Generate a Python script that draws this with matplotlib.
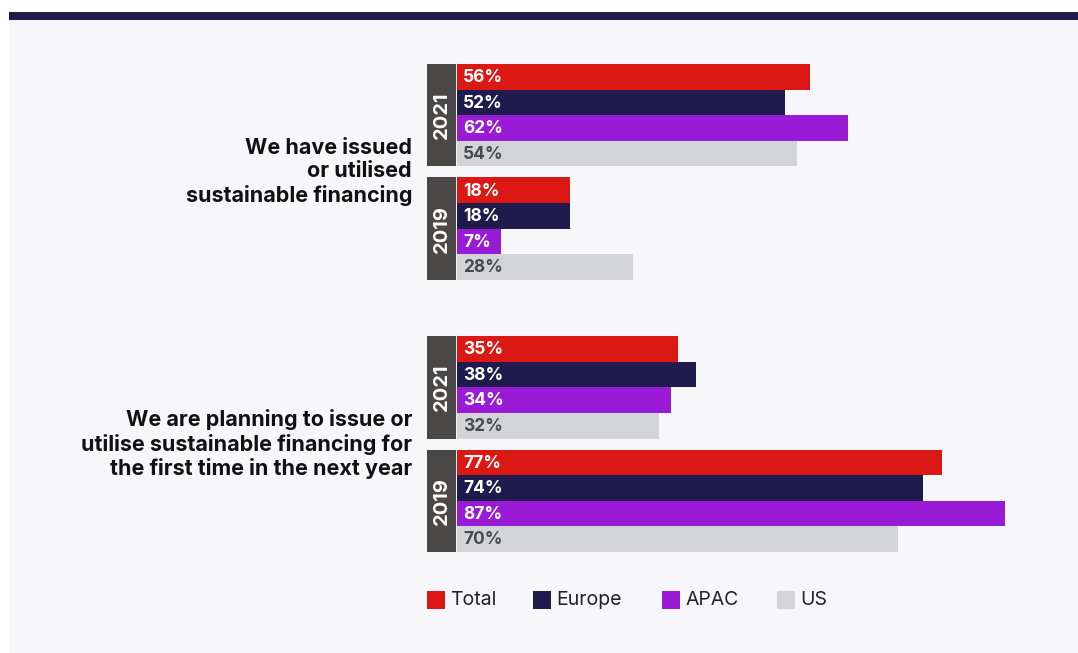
import matplotlib
matplotlib.use("Agg")
import matplotlib.pyplot as plt
from matplotlib.patches import Rectangle

plt.rcParams['font.family'] = ['Inter', 'DejaVu Sans']

# ---- data ----
questions = ["We have issued\nor utilised\nsustainable financing",
             "We are planning to issue or\nutilise sustainable financing for\nthe first time in the next year"]
years = ["2021", "2019"]
series = ["Total", "Europe", "APAC", "US"]
colors = ["#db1813", "#1f1b4d", "#9a1bd6", "#d3d4d6"]
label_colors = ["white", "white", "white", "#4a4a4a"]
# values[question][year][series]
q1_2021 = [56, 52, 62, 54]
q1_2019 = [18, 18, 7, 28]
q2_2021 = [35, 38, 34, 32]
q2_2019 = [77, 74, 87, 70]
values = [[q1_2021, q1_2019], [q2_2021, q2_2019]]

W, H = 1078, 653
fig = plt.figure(figsize=(W / 100, H / 100), dpi=100)
fig.patch.set_facecolor("white")

def fx(px):
    return px / W

def fy(py):
    return 1 - py / H

# panel + top band
fig.add_artist(Rectangle((fx(9), 0), 1 - fx(9), fy(20), transform=fig.transFigure,
                         facecolor="#f7f7f9", edgecolor="none", zorder=0))
fig.add_artist(Rectangle((fx(9), fy(20)), 1 - fx(9), fy(12) - fy(20), transform=fig.transFigure,
                         facecolor="#1f1b4d", edgecolor="none", zorder=0))

# bars axes
x0_px, y_top, y_bot = 457, 64, 552
px_per_unit = 6.3
ax = fig.add_axes([fx(x0_px), fy(y_bot), 1 - fx(x0_px), fy(y_top) - fy(y_bot)])
ax.set_facecolor("none")
ax.set_xlim(0, (W - x0_px) / px_per_unit)

block_gap = 0.43
group_gap = 2.19
total_units = 4 * 4 + 2 * block_gap + group_gap
ax.set_ylim(total_units, 0)
for s in ax.spines.values():
    s.set_visible(False)
ax.set_xticks([])
ax.set_yticks([])

box_left = -30.5 / px_per_unit
pos = 0.0
group_centers = []
for qi, q in enumerate(questions):
    gstart = pos
    for yi, yr in enumerate(years):
        vals = values[qi][yi]
        bstart = pos
        for si, v in enumerate(vals):
            ax.barh(pos + si + 0.5, v, height=1.0, color=colors[si], left=0)
            ax.text(1.0, pos + si + 0.53, f"{v}%", color=label_colors[si],
                    fontsize=12.5, fontweight="bold", va="center", ha="left")
        ax.add_patch(Rectangle((box_left, bstart), -box_left - 0.08, 4,
                               facecolor="#4a4846", edgecolor="none", clip_on=False))
        ax.text(box_left / 2 - 0.04, bstart + 2, yr, rotation=90, color="white",
                fontsize=14.5, fontweight="bold", ha="center", va="center",
                clip_on=False)
        pos += 4
        if yi == 0:
            pos += block_gap
    group_centers.append((gstart + pos) / 2)
    pos += group_gap

for qi, q in enumerate(questions):
    ax.text(-45 / px_per_unit, group_centers[qi], q, ha="right", va="center",
            fontsize=15.5, fontweight="bold", color="#111111", linespacing=1.2,
            clip_on=False)

# legend
leg_y = 600
leg_items = [(427, "Total"), (533, "Europe"), (662, "APAC"), (777, "US")]
for (lx, name), c in zip(leg_items, colors):
    fig.add_artist(Rectangle((fx(lx), fy(leg_y + 9)), fx(18), fy(leg_y - 9) - fy(leg_y + 9),
                             transform=fig.transFigure, facecolor=c, edgecolor="none"))
    fig.text(fx(lx + 23), fy(leg_y), name, fontsize=14, color="#222222",
             ha="left", va="center")

fig.savefig("out.png", dpi=100)
